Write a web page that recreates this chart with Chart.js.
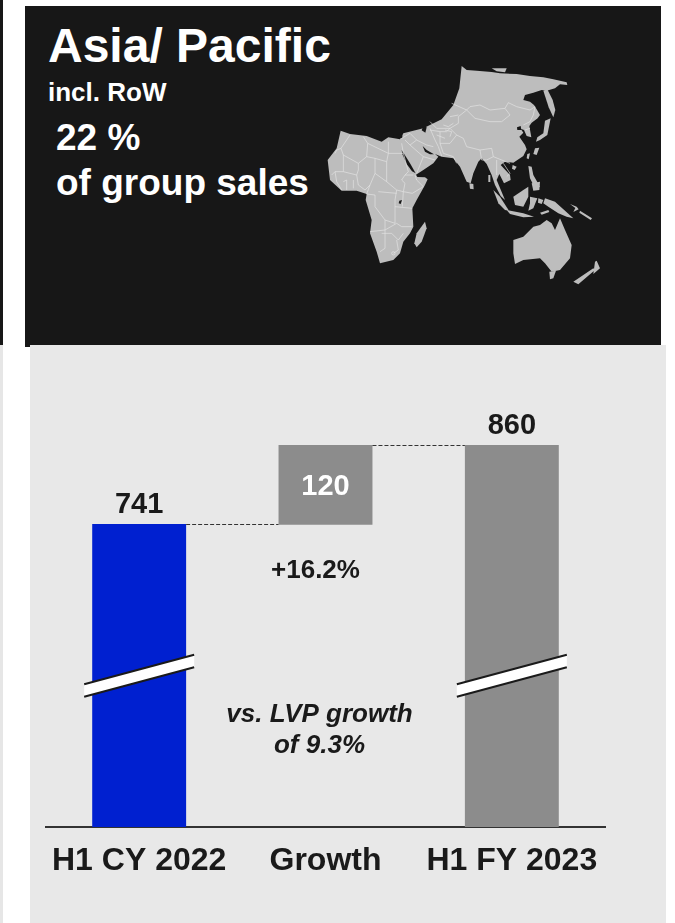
<!DOCTYPE html>
<html>
<head>
<meta charset="utf-8">
<title>Asia/ Pacific</title>
<script src="https://cdn.jsdelivr.net/npm/chart.js@4/dist/chart.umd.min.js"></script>
<style>
  html, body { margin: 0; padding: 0; background: #fff; width: 675px; height: 923px; overflow: hidden; }
  body { position: relative; font-family: "Liberation Sans", Arial, sans-serif; }
  .block { position: absolute; }
  #edgeDark  { left: 0; top: 0; width: 3px; height: 345px; background: #171717; }
  #edgeLight { left: 0; top: 345px; width: 3px; height: 578px; background: #e6e6e6; }
  #head  { left: 25px; top: 6px; width: 636px; height: 341px; background: #171717; }
  #panel { left: 30px; top: 345px; width: 636px; height: 578px; background: #e8e8e8; }
  #plot  { position: absolute; left: 0; top: 345px; }
  .t { position: absolute; color: #fff; font-weight: 700; white-space: nowrap; line-height: 1; }
  #world { position: absolute; left: 310px; top: 50px; width: 300px; height: 250px; }
  #world .land { fill: #bdbdbd; stroke: none; }
  #world .sea { fill: #171717; stroke: none; }
  #world .line { fill: none; stroke: #e4e4e4; stroke-width: 2; stroke-linejoin: round; }
</style>
</head>
<body>
<div class="block" id="edgeDark"></div>
<div class="block" id="edgeLight"></div>
<div class="block" id="head"></div>
<div class="block" id="panel"></div>

<div class="t" style="left:48px;top:22px;font-size:48px">Asia/ Pacific</div>
<div class="t" style="left:48px;top:79px;font-size:26px">incl. RoW</div>
<div class="t" style="left:56px;top:119px;font-size:37px">22 %</div>
<div class="t" style="left:56px;top:164px;font-size:37px">of group sales</div>

<!-- Outline map of Africa, Asia and Oceania -->
<svg id="world" viewBox="0 0 900 750">
  <path class="land" d="M455,48 L470,60 L500,62 L545,66 L570,70 L620,72 L660,78 L700,82 L730,88 L770,97 L772,105 L750,103 L735,115 L710,122 L695,120 L670,128 L645,135 L640,150 L660,155 L672,165 L680,178 L690,195 L683,205 L665,218 L658,228 L664,262 L650,258 L642,240 L632,236 L640,248 L628,260 L645,285 L650,298 L640,318 L610,338 L585,335 L572,345 L600,375 L602,390 L582,400 L568,372 L560,390 L585,450 L572,438 L555,405 L545,375 L530,342 L515,325 L505,335 L490,370 L482,400 L470,395 L450,350 L430,325 L395,320 L375,312 L385,320 L370,340 L340,360 L318,374 L322,381 L345,382 L353,388 L345,405 L320,450 L307,475 L310,530 L300,550 L280,575 L270,610 L250,630 L210,640 L200,605 L180,550 L185,510 L167,450 L170,432 L140,422 L95,422 L60,390 L53,330 L80,295 L92,242 L120,252 L170,258 L215,275 L235,262 L270,268 L280,250 L340,235 L395,208 L430,165 L448,115 Z"/>
  <path class="sea" d="M275,300 L300,340 L317,370 L306,364 L290,342 L277,312 Z"/>
  <path class="sea" d="M338,288 L350,300 L372,313 L360,313 L345,305 Z"/>
  <path class="sea" d="M340,228 L350,232 L346,248 L335,241 Z"/>
  <path class="sea" d="M230,255 L246,255 L246,260 L230,260 Z M250,254 L277,252 L277,264 L250,262 Z"/>
  <path class="sea" d="M268,452 L276,450 L272,462 L266,460 Z"/>
  <path class="sea" d="M621,232 L632,228 L634,240 L622,240 Z"/>

  <!-- islands -->
  <path class="land" d="M545,55 L590,55 L585,67 L560,64 Z"/>
  <path class="land" d="M700,122 L712,118 L728,150 L736,180 L730,202 L716,172 Z"/>
  <path class="land" d="M705,212 L722,205 L718,225 L712,255 L690,270 L678,275 L682,262 L700,250 Z"/>
  <path class="land" d="M675,295 L688,293 L680,315 L670,312 Z"/>
  <path class="land" d="M652,312 L660,310 L656,328 L650,325 Z"/>
  <path class="land" d="M608,345 L620,350 L614,360 L606,356 Z"/>
  <path class="land" d="M478,400 L490,402 L491,418 L480,416 Z"/>
  <path class="land" d="M535,375 L541,375 L541,396 L535,396 Z"/>
  <path class="land" d="M655,348 L665,350 L670,375 L690,410 L675,415 L660,385 Z"/>
  <path class="land" d="M665,400 L690,395 L688,420 L670,422 Z"/>
  <path class="land" d="M550,420 L570,440 L597,482 L585,480 L565,460 Z"/>
  <path class="land" d="M590,480 L640,490 L672,500 L640,502 L600,492 Z"/>
  <path class="land" d="M610,440 L640,420 L655,410 L655,440 L640,470 L615,465 Z"/>
  <path class="land" d="M660,440 L682,445 L670,475 L655,482 L660,460 Z"/>
  <path class="land" d="M685,445 L700,450 L695,462 L684,458 Z M690,488 L715,480 L718,486 L695,494 Z"/>
  <path class="land" d="M705,445 L735,455 L790,505 L770,500 L745,490 L715,470 L700,460 Z"/>
  <path class="land" d="M780,462 L800,470 L806,478 L790,486 L796,474 Z M810,482 L846,505 L842,510 L808,488 Z"/>
  <path class="land" d="M610,570 L640,560 L670,530 L690,525 L710,510 L725,520 L735,540 L750,505 L765,540 L785,585 L780,625 L750,660 L725,665 L705,640 L690,625 L640,630 L615,642 L610,610 Z"/>
  <path class="land" d="M718,665 L738,662 L730,685 L720,688 Z"/>
  <path class="land" d="M790,695 L850,655 L855,660 L805,703 Z M855,635 L860,632 L870,655 L850,672 Z"/>
  <path class="land" d="M345,515 L350,535 L335,575 L320,592 L313,580 L320,550 Z"/>

  <!-- African borders -->
  <g class="line" transform="translate(45,210)">
    <path d="M75,45 L48,85 L35,90 L30,100 M48,85 L55,105 L100,130 L125,110 L128,70 L115,50"/>
    <path d="M128,70 L190,100 L190,65 M190,100 L235,100 L230,70"/>
    <path d="M125,110 L150,115 L150,160 L135,195 L120,210"/>
    <path d="M100,130 L100,150 L95,165 L55,155 L55,105 M55,155 L30,155 L20,165"/>
    <path d="M30,155 L35,185 L50,210 M55,185 L65,180 L65,210 M85,180 L85,205 M95,165 L100,195 L120,210"/>
    <path d="M150,115 L185,125 L190,100 M185,125 L185,185 L215,210 L235,215"/>
    <path d="M235,215 L240,190 L230,180 L240,165 L265,165 M240,165 L250,155 L235,100"/>
    <path d="M270,165 L275,180 L295,200 M235,215 L262,220 L295,200 M150,160 L185,185"/>
    <path d="M135,195 L125,222 L150,225 L150,260 L180,300 L210,310 L210,240 L215,210"/>
    <path d="M160,215 L215,220 M210,260 L262,265 M235,215 L232,260"/>
    <path d="M135,335 L180,330 L215,310 L230,320 L260,320 M180,300 L180,385 L165,395"/>
    <path d="M200,340 L220,360 L235,340 M170,340 L200,340 M215,360 L220,390 L205,400"/>
    <circle cx="205" cy="400" r="5"/>
  </g>

  <!-- Asian borders -->
  <g class="line" transform="translate(360,30)">
    <path d="M65,130 L110,150 L120,140 L150,135 L180,150 L225,145 L235,128 L260,140 L300,150 L315,140 L310,165 L300,185 L280,195"/>
    <path d="M110,150 L135,175 L180,185 L215,185 L240,165 L225,145"/>
    <path d="M110,150 L85,170 L85,190 L60,205 L80,225 L100,235 L110,260 L150,270 L185,265 L190,290"/>
    <path d="M0,185 L20,205 L60,205 M60,170 L85,165 M0,210 L30,215 L30,250 L60,250 L80,225 M60,205 L50,215 L30,215"/>
    <path d="M30,250 L40,280 L70,290 L80,310 M150,270 L155,300 L170,300 L190,290 L215,300 L240,310"/>
    <path d="M200,300 L200,345 M220,310 L240,340 L230,350 M285,210 L300,205"/>
    <path d="M40,195 L55,200 L70,190 M45,210 L65,215 L60,230 M20,225 L45,235"/>
  </g>

  <!-- Middle Eastern borders -->
  <g class="line">
    <path d="M275,265 L300,250 L320,270 L350,285 L370,290 M320,270 L300,285 L285,270"/>
    <path d="M300,285 L340,320 L375,330 M340,320 L320,370 M360,235 L375,270 L385,290 L395,318"/>
  </g>
</svg>

<canvas id="plot" width="675" height="578"></canvas>

<script>
// Half-year sales bridge
const categories = ['H1 CY 2022', 'Growth', 'H1 FY 2023'];
const barValues = [741, 120, 860];
const barStarts = [0, 740, 0];
const axisFloor = 285;
const axisCeiling = 900;
const growthNote = '+16.2%';
const comparisonNote = ['vs. LVP growth', 'of 9.3%'];

const FONT = '"Liberation Sans", Arial, sans-serif';
const INK = '#1a1a1a';

// Connectors, value labels, notes and the axis break marks
const annotations = {
  id: 'annotations',
  afterDatasetsDraw(chart) {
    const { ctx } = chart;
    const x = chart.scales.x;
    const y = chart.scales.y;
    const half = chart.getDatasetMeta(0).data[0].width / 2;
    const tops = barValues.map((v, i) => (i === 1 ? barStarts[i] + v : v));

    // dashed connectors between neighbouring bars
    ctx.save();
    ctx.strokeStyle = '#333';
    ctx.lineWidth = 1;
    ctx.setLineDash([4, 2]);
    [[0, 1, tops[0]], [1, 2, tops[1]]].forEach(([a, b, v]) => {
      const py = Math.round(y.getPixelForValue(v)) + 0.5;
      ctx.beginPath();
      ctx.moveTo(x.getPixelForValue(a) + half, py);
      ctx.lineTo(x.getPixelForValue(b) - half, py);
      ctx.stroke();
    });
    ctx.restore();

    // slanted break over the two full-height bars
    const bottom = chart.chartArea.bottom;
    [0, 2].forEach((i) => {
      const cx = x.getPixelForValue(i);
      const l = cx - 55, r = cx + 55;
      const upper = bottom - 157.5, lower = bottom - 145;
      ctx.save();
      ctx.beginPath();
      ctx.moveTo(l, upper + 14.8);
      ctx.lineTo(r, upper - 14.8);
      ctx.lineTo(r, lower - 14.8);
      ctx.lineTo(l, lower + 14.8);
      ctx.closePath();
      ctx.fillStyle = '#fff';
      ctx.fill();
      ctx.strokeStyle = '#1a1a1a';
      ctx.lineWidth = 2;
      ctx.beginPath();
      ctx.moveTo(l, upper + 14.8);
      ctx.lineTo(r, upper - 14.8);
      ctx.moveTo(l, lower + 14.8);
      ctx.lineTo(r, lower - 14.8);
      ctx.stroke();
      ctx.restore();
    });

    // value labels
    ctx.save();
    ctx.textAlign = 'center';
    ctx.textBaseline = 'alphabetic';
    ctx.font = 'bold 29px ' + FONT;
    ctx.fillStyle = INK;
    ctx.fillText(String(barValues[0]), x.getPixelForValue(0), y.getPixelForValue(tops[0]) - 11);
    ctx.fillText(String(barValues[2]), x.getPixelForValue(2), y.getPixelForValue(tops[2]) - 11);
    ctx.fillStyle = '#fff';
    ctx.fillText(String(barValues[1]), x.getPixelForValue(1), y.getPixelForValue(tops[1]) + 50);

    // notes under the growth bar
    const mid = x.getPixelForValue(1);
    ctx.fillStyle = INK;
    ctx.font = 'bold 26px ' + FONT;
    ctx.fillText(growthNote, mid - 10, bottom - 249);
    ctx.font = 'italic bold 26px ' + FONT;
    ctx.fillText(comparisonNote[0], mid - 6, bottom - 105);
    ctx.fillText(comparisonNote[1], mid - 6, bottom - 74);
    ctx.restore();
  }
};

new Chart(document.getElementById('plot'), {
  type: 'bar',
  data: {
    labels: categories,
    datasets: [{
      data: barValues.map((v, i) => [barStarts[i], barStarts[i] + v]),
      backgroundColor: ['#0020d0', '#8c8c8c', '#8c8c8c'],
      borderWidth: 0,
      borderSkipped: false,
      barPercentage: 0.504,
      categoryPercentage: 1
    }]
  },
  options: {
    responsive: false,
    animation: false,
    layout: { padding: { left: 46, right: 70, top: 73.4, bottom: 0 } },
    plugins: { legend: { display: false }, tooltip: { enabled: false }, title: { display: false } },
    scales: {
      x: {
        grid: { display: false, drawTicks: false },
        border: { display: true, color: '#333', width: 2 },
        ticks: {
          color: INK,
          padding: 15,
          maxRotation: 0,
          autoSkip: false,
          font: { family: FONT, size: 32, weight: 'bold' }
        },
        afterFit(scale) { scale.height = 96; }
      },
      y: {
        display: false,
        min: axisFloor,
        max: axisCeiling
      }
    }
  },
  plugins: [annotations]
});
</script>
</body>
</html>
